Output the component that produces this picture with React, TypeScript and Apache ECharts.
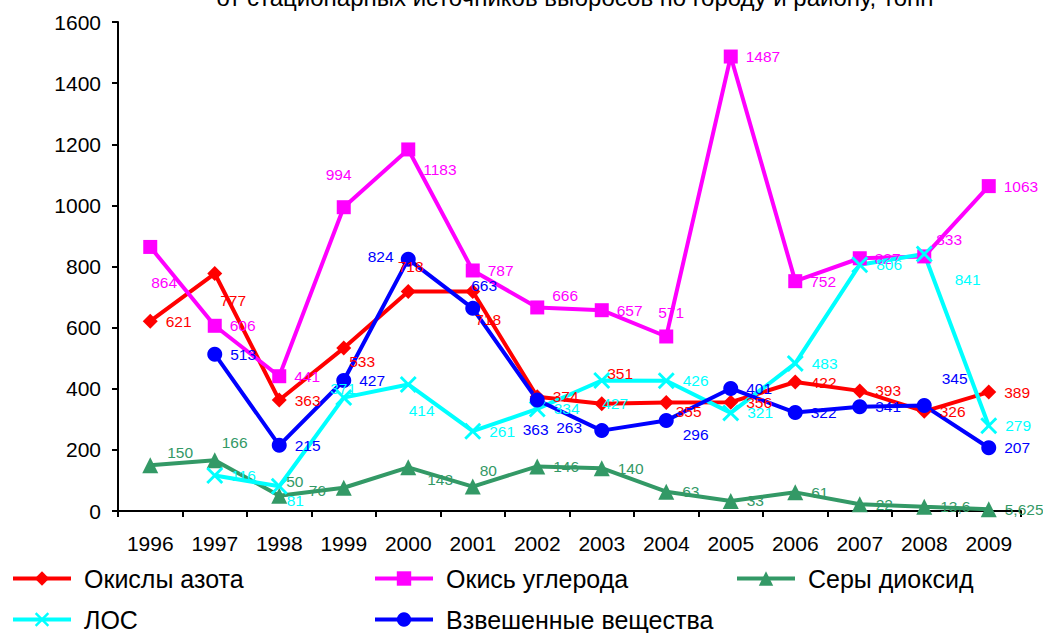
import React, { useEffect, useRef } from "react";
import * as echarts from "echarts";

const years = ["1996", "1997", "1998", "1999", "2000", "2001", "2002", "2003", "2004", "2005", "2006", "2007", "2008", "2009"];
const nitrogenOxides = [621, 777, 363, 533, 718, 718, 374, 351, 355, 356, 422, 393, 326, 389];
const carbonMonoxide = [864, 606, 441, 994, 1183, 787, 666, 657, 571, 1487, 752, 827, 833, 1063];
const sulfurDioxide = [150, 166, 50, 76, 143, 80, 146, 140, 63, 33, 61, 22, 13.6, 5.625];
const vocs = [null, 116, 81, 371, 414, 261, 334, 427, 426, 321, 483, 806, 841, 279];
const suspended = [null, 513, 215, 427, 824, 663, 363, 263, 296, 401, 322, 341, 345, 207];
const yTicks = { min: 0, max: 1600, interval: 200 };
const titleText = "от стационарных источников выбросов по городу и району, тонн";

const FONT = "'Liberation Sans', Arial, sans-serif";

// label placement tweaks (styling only): index -> [dx, dy]
const labelShift: Record<string, Record<number, number[]>> = {
  no: { 1: [-10, 27], 3: [-10, 13], 4: [-26, -25], 5: [-13, 28], 7: [-10, -30], 8: [-6, 9] },
  co: { 0: [-14, 36], 3: [-33, -33], 4: [0, 20], 6: [0, -12], 8: [-23, -24], 12: [-3, -17] },
  so: { 0: [1, -13], 1: [-9, -18], 2: [-9, -14], 3: [-51, 3], 4: [3, 12], 5: [-9, -16] },
  voc: { 2: [-9, 14], 3: [-30, -9], 4: [-16, 26], 7: [-16, 23], 12: [14, 26] },
  ss: { 4: [-56, -3], 5: [-17, -23], 6: [-30, 29], 7: [-61, -3], 8: [1, 14], 12: [2, -27] },
};

const crossPath =
  "path://M0,1.2L1.2,0L5,3.8L8.8,0L10,1.2L6.2,5L10,8.8L8.8,10L5,6.2L1.2,10L0,8.8L3.8,5Z";

function buildData(values: (number | null)[], key: string) {
  const shifts = labelShift[key] || {};
  return values.map((v, i) => {
    if (v === null) return { value: null };
    const item: any = { value: v };
    if (shifts[i]) item.label = { offset: shifts[i] };
    return item;
  });
}

function makeSeries(name: string, key: string, values: (number | null)[], color: string, symbol: string, symbolSize: number) {
  return {
    name,
    type: "line",
    data: buildData(values, key),
    symbol,
    symbolSize,
    showAllSymbol: true,
    lineStyle: { color, width: 4 },
    itemStyle: { color, borderColor: color, borderWidth: 0 },
    label: {
      show: true,
      position: "right",
      distance: 8,
      color,
      fontSize: 15.5,
      fontFamily: FONT,
      formatter: (p: any) => String(p.value).replace(".", ","),
    },
    emphasis: { disabled: true },
  };
}

export default function App() {
  const ref = useRef<HTMLDivElement>(null);
  useEffect(() => {
    if (!ref.current) return;
    const chart = echarts.init(ref.current, null, { renderer: "svg" });
    const legendCommon = {
      orient: "horizontal",
      padding: 0,
      itemWidth: 58,
      itemHeight: 18,
      lineStyle: { width: 4 },
      textStyle: { fontSize: 25, fontFamily: FONT, color: "#000", padding: [0, 0, 0, 8] },
      selectedMode: false,
    };
    chart.setOption({
      animation: false,
      backgroundColor: "#fff",
      textStyle: { fontFamily: FONT },
      graphic: [
        {
          type: "text",
          x: 575,
          y: -3,
          style: {
            text: titleText,
            fontSize: 24,
            fontFamily: FONT,
            fill: "#000",
            align: "center",
            verticalAlign: "middle",
          },
        },
      ],
      grid: { left: 118, right: 22, top: 22, bottom: 122 },
      legend: [
        { ...legendCommon, data: ["Окислы азота"], left: 11, top: 566 },
        { ...legendCommon, data: ["Окись углерода"], left: 373, top: 566 },
        { ...legendCommon, data: ["Серы диоксид"], left: 735, top: 566 },
        { ...legendCommon, data: ["ЛОС"], left: 11, top: 607 },
        { ...legendCommon, data: ["Взвешенные вещества"], left: 373, top: 607 },
      ],
      xAxis: {
        type: "category",
        data: years,
        boundaryGap: true,
        axisLine: { lineStyle: { color: "#000", width: 2 } },
        axisTick: { show: true, length: 6, lineStyle: { color: "#000", width: 2 } },
        axisLabel: { color: "#000", fontSize: 21, fontFamily: FONT, margin: 22 },
      },
      yAxis: {
        type: "value",
        min: yTicks.min,
        max: yTicks.max,
        interval: yTicks.interval,
        axisLine: { show: true, lineStyle: { color: "#000", width: 2 } },
        axisTick: { show: true, length: 6, lineStyle: { color: "#000", width: 2 } },
        splitLine: { show: false },
        axisLabel: {
          color: "#000",
          fontSize: 21,
          fontFamily: FONT,
          margin: 17,
          formatter: (v: number) => String(v),
        },
      },
      series: [
        makeSeries("Окислы азота", "no", nitrogenOxides, "#FF0000", "diamond", 15),
        makeSeries("Окись углерода", "co", carbonMonoxide, "#FF00FF", "rect", 14),
        makeSeries("Серы диоксид", "so", sulfurDioxide, "#339966", "triangle", 16),
        makeSeries("ЛОС", "voc", vocs, "#00FFFF", crossPath, 17),
        makeSeries("Взвешенные вещества", "ss", suspended, "#0000FF", "circle", 15),
      ],
    });
    return () => chart.dispose();
  }, []);
  return (
    <div
      ref={ref}
      style={{ position: "absolute", left: 0, top: 0, width: 1043, height: 633 }}
    />
  );
}
